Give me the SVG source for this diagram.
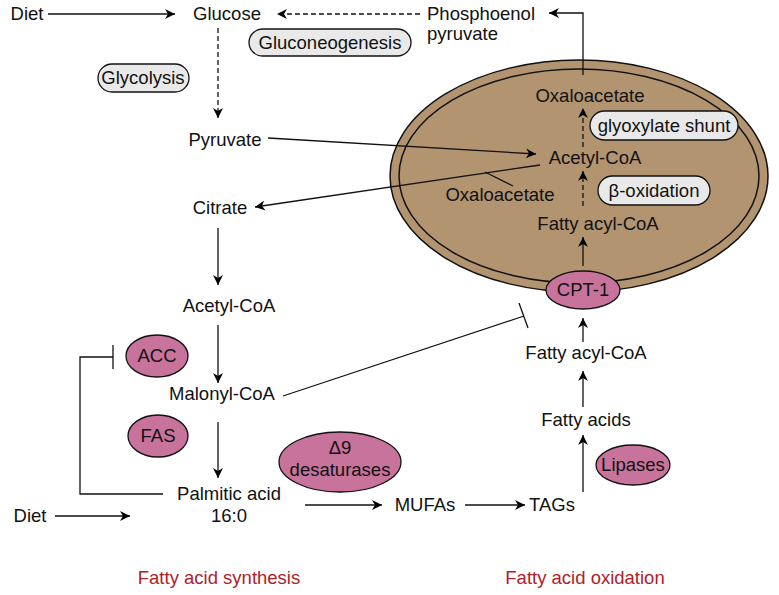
<svg xmlns="http://www.w3.org/2000/svg" width="779" height="595" viewBox="0 0 779 595">
<defs>
<marker id="ar" viewBox="0 0 10 10" refX="10" refY="5" markerWidth="10" markerHeight="10" markerUnits="userSpaceOnUse" orient="auto"><path d="M0,0 L10,5 L0,10 L3,5 z" fill="#000"/></marker>
<style>
text{font-family:"Liberation Sans",Arial,sans-serif;font-size:18.5px;fill:#111;text-anchor:middle}
.s{text-anchor:start}
.r{fill:#b0202a}
.l{stroke:#111;stroke-width:1.3;fill:none}
.a{marker-end:url(#ar)}
.d{stroke-dasharray:5,3}
.pill{fill:#e9e9e9;stroke:#111;stroke-width:1.3}
.enz{fill:#c8739b;stroke:#111;stroke-width:1.3}
</style>
</defs>
<rect width="779" height="595" fill="#fff"/>
<g id="mito">
<ellipse cx="579" cy="176" rx="189" ry="116" fill="#b39470" stroke="#111" stroke-width="1.5"/>
<ellipse cx="579" cy="176" rx="180" ry="107" fill="none" stroke="#111" stroke-width="1.5"/>
</g>
<g id="connectors">
<line class="l a" x1="48" y1="14" x2="175" y2="14"/>
<line class="l a d" x1="420" y1="14" x2="277" y2="14"/>
<polyline class="l a" points="583,75 583,13 549,13"/>
<line class="l a d" x1="218" y1="28" x2="218" y2="118"/>
<line class="l a" x1="268" y1="138" x2="536" y2="154"/>
<line class="l a" x1="540" y1="165" x2="255" y2="207"/>
<line class="l" x1="485" y1="172" x2="513" y2="186"/>
<line class="l a d" x1="583" y1="147" x2="583" y2="108"/>
<line class="l a d" x1="583" y1="206" x2="583" y2="171"/>
<line class="l a" x1="583" y1="266" x2="583" y2="237"/>
<line class="l a" x1="218" y1="228" x2="218" y2="285"/>
<line class="l a" x1="218" y1="325" x2="218" y2="383"/>
<line class="l" x1="283" y1="396" x2="524" y2="316"/>
<line class="l" x1="519" y1="303" x2="528" y2="328"/>
<polyline class="l" points="163,494 80,494 80,357 113,357"/>
<line class="l" x1="113" y1="345" x2="113" y2="369"/>
<line class="l a" x1="218" y1="422" x2="218" y2="478"/>
<line class="l a" x1="55" y1="516" x2="130" y2="516"/>
<line class="l a" x1="305" y1="505" x2="382" y2="505"/>
<line class="l a" x1="465" y1="505" x2="525" y2="505"/>
<line class="l a" x1="583" y1="492" x2="583" y2="435"/>
<line class="l a" x1="583" y1="407" x2="583" y2="371"/>
<line class="l a" x1="583" y1="342" x2="583" y2="318"/>
</g>
<g id="diet1"><text x="27" y="20">Diet</text></g>
<g id="glucose"><text x="227" y="20">Glucose</text></g>
<g id="pep"><text class="s" x="427" y="20">Phosphoenol</text><text class="s" x="427" y="40">pyruvate</text></g>
<g id="gluconeo"><rect class="pill" x="249" y="29" width="162" height="27" rx="13.5"/><text x="330" y="49">Gluconeogenesis</text></g>
<g id="glycolysis"><rect class="pill" x="98" y="64" width="91" height="28" rx="14"/><text x="143" y="84">Glycolysis</text></g>
<g id="pyruvate"><text x="225" y="146">Pyruvate</text></g>
<g id="oaa1"><text x="590" y="102">Oxaloacetate</text></g>
<g id="glyox"><rect class="pill" x="590" y="111" width="148" height="29" rx="14.5"/><text x="664" y="132">glyoxylate shunt</text></g>
<g id="acetylcoa-m"><text x="595" y="164">Acetyl-CoA</text></g>
<g id="oaa2"><text x="500" y="201">Oxaloacetate</text></g>
<g id="betaox"><rect class="pill" x="598" y="176" width="112" height="29" rx="14.5"/><text x="654" y="197">β-oxidation</text></g>
<g id="facoa-m"><text x="598" y="230">Fatty acyl-CoA</text></g>
<g id="cpt1"><ellipse class="enz" cx="583" cy="290" rx="37" ry="19"/><text x="583" y="296">CPT-1</text></g>
<g id="citrate"><text x="220" y="214">Citrate</text></g>
<g id="acetylcoa"><text x="229" y="312">Acetyl-CoA</text></g>
<g id="acc"><ellipse class="enz" cx="157" cy="356" rx="31" ry="21"/><text x="157" y="362">ACC</text></g>
<g id="malonyl"><text x="222" y="400">Malonyl-CoA</text></g>
<g id="fas"><ellipse class="enz" cx="158" cy="436" rx="30" ry="21"/><text x="158" y="442">FAS</text></g>
<g id="palmitic"><text x="229" y="500">Palmitic acid</text><text x="229" y="522">16:0</text></g>
<g id="diet2"><text x="30" y="522">Diet</text></g>
<g id="d9"><ellipse class="enz" cx="340" cy="462" rx="61" ry="30"/><text x="340" y="454">Δ9</text><text x="340" y="476">desaturases</text></g>
<g id="mufas"><text x="425" y="511">MUFAs</text></g>
<g id="tags"><text x="552" y="511">TAGs</text></g>
<g id="lipases"><ellipse class="enz" cx="633" cy="465" rx="37" ry="20"/><text x="633" y="471">Lipases</text></g>
<g id="fa"><text x="586" y="426">Fatty acids</text></g>
<g id="facoa"><text x="586" y="359">Fatty acyl-CoA</text></g>
<g id="labels"><text class="r" x="219" y="584">Fatty acid synthesis</text><text class="r" x="585" y="584">Fatty acid oxidation</text></g>
</svg>
